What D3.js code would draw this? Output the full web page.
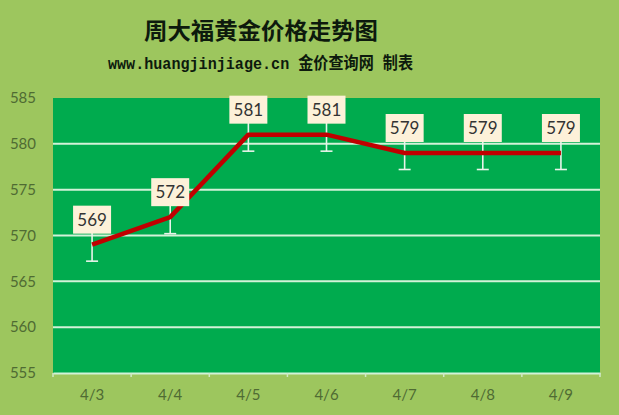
<!DOCTYPE html>
<html><head><meta charset="utf-8">
<script src="https://cdnjs.cloudflare.com/ajax/libs/d3/7.8.5/d3.min.js"></script>
<style>html,body{margin:0;padding:0;background:#9dc65e;}svg{display:block;}</style>
</head><body>
<svg id="c" width="619" height="415"></svg>
<script>
const categories = ["4/3","4/4","4/5","4/6","4/7","4/8","4/9"];
const prices = [569,572,581,581,579,579,579];
const errors = [1.8,1.8,1.8,1.8,1.8,1.8,1.8];
const yTicks = [555,560,565,570,575,580,585];
const title = "周大福黄金价格走势图";
const subtitle = "www.huangjinjiage.cn 金价查询网 制表";

const W = 619, H = 415;
const m = {left:53, right:19, top:98, bottom:42};
const svg = d3.select("#c");
svg.append("rect").attr("width",W).attr("height",H).attr("fill","#9dc65e");

const x = d3.scaleBand().domain(categories).range([m.left, W-m.right]);
const y = d3.scaleLinear().domain([555,585]).range([H-m.bottom, m.top]);

svg.append("rect").attr("x",m.left).attr("y",m.top)
  .attr("width",W-m.left-m.right).attr("height",H-m.top-m.bottom).attr("fill","#00ab4e");

// gridlines
svg.append("g").selectAll("line").data(yTicks.filter(v=>v>555 && v<585)).join("line")
  .attr("x1",m.left).attr("x2",W-m.right).attr("y1",d=>y(d)).attr("y2",d=>y(d))
  .attr("stroke","#d2f2d8").attr("stroke-width",2);

// y axis
const ya = svg.append("g").attr("transform",`translate(${m.left},0)`)
  .call(d3.axisLeft(y).tickValues(yTicks).tickSize(0).tickPadding(17));
ya.select(".domain").remove();
ya.selectAll("text").attr("font-family","Lato, 'Liberation Sans', sans-serif").attr("font-size",15).attr("fill","#4f6b33");

// x axis
const xa = svg.append("g").attr("transform",`translate(0,${H-m.bottom})`)
  .call(d3.axisBottom(x).tickSize(0).tickPadding(16));
xa.select(".domain").attr("stroke","#d2f2d8").attr("stroke-width",2);
xa.selectAll("text").attr("font-family","Lato, 'Liberation Sans', sans-serif").attr("font-size",15).attr("fill","#4f6b33");
// tick marks at band boundaries
const bounds = categories.map(c=>x(c)).concat([x(categories[categories.length-1])+x.bandwidth()]);
svg.append("g").selectAll("line").data(bounds).join("line")
  .attr("x1",d=>d).attr("x2",d=>d).attr("y1",H-m.bottom).attr("y2",H-m.bottom+4)
  .attr("stroke","#d2e8c8").attr("stroke-width",1.5);

const cx = c => x(c) + x.bandwidth()/2;
const data = categories.map((c,i)=>({c, v:prices[i], e:errors[i]}));

// error bars
const eb = svg.append("g").attr("stroke","#e8f4ea").attr("stroke-width",1.6);
eb.selectAll("line.v").data(data).join("line").attr("class","v")
  .attr("x1",d=>cx(d.c)).attr("x2",d=>cx(d.c)).attr("y1",d=>y(d.v+d.e)).attr("y2",d=>y(d.v-d.e));
eb.selectAll("line.cap").data(data).join("line").attr("class","cap")
  .attr("x1",d=>cx(d.c)-6).attr("x2",d=>cx(d.c)+6).attr("y1",d=>y(d.v-d.e)).attr("y2",d=>y(d.v-d.e));

// line
svg.append("path").datum(data)
  .attr("d", d3.line().x(d=>cx(d.c)).y(d=>y(d.v)))
  .attr("fill","none").attr("stroke","#c00000").attr("stroke-width",4.5).attr("stroke-linejoin","round");

// labels
const lg = svg.append("g").selectAll("g").data(data).join("g")
  .attr("transform",d=>`translate(${cx(d.c)},${y(d.v)-11})`);
lg.append("rect").attr("x",-19).attr("y",-28).attr("width",38).attr("height",28).attr("fill","#fdf1d9");
lg.append("text").attr("y",-8).attr("text-anchor","middle")
  .attr("font-family","Lato, 'Liberation Sans', sans-serif").attr("font-size",17).attr("fill","#333")
  .text(d=>d.v);

// titles
svg.append("text").attr("x",261).attr("y",39).attr("text-anchor","middle")
  .attr("font-family","'Noto Sans CJK SC', sans-serif").attr("font-weight","bold").attr("font-size",23)
  .attr("fill","#0d1a0d").attr("textLength",234).attr("lengthAdjust","spacingAndGlyphs").text(title);
svg.append("text").attr("x",260.5).attr("y",69).attr("text-anchor","middle")
  .attr("font-family","'Liberation Mono', 'Noto Sans CJK SC', monospace").attr("font-weight","bold").attr("font-size",17)
  .attr("fill","#0d1a0d").attr("textLength",305).attr("lengthAdjust","spacingAndGlyphs").text(subtitle);
</script>
</body></html>
